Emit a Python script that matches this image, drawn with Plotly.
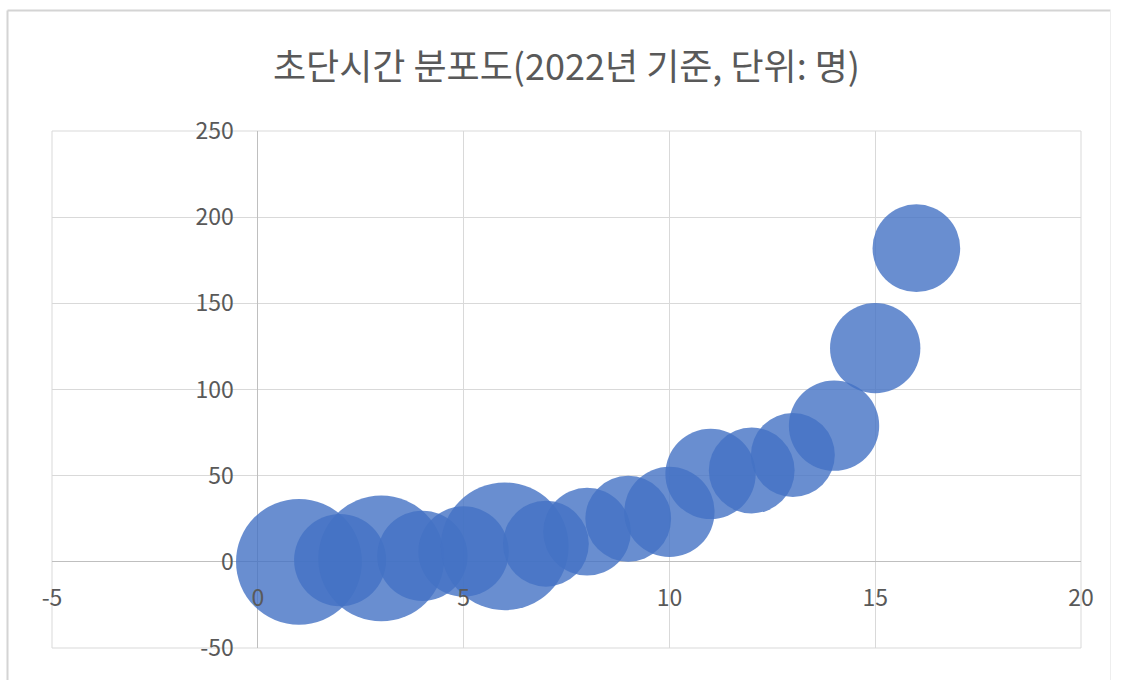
import plotly.graph_objects as go

# Data
x_vals = [1, 2, 3, 4, 5, 6, 7, 8, 9, 10, 11, 12, 13, 14, 15, 16]
y_vals = [0, 1, 2, 3.5, 6, 9, 10.5, 17.5, 25, 29, 51, 53, 62, 79, 124, 182]
bubble_sizes = [99, 53, 99, 51, 51, 102, 46, 48, 46, 51, 51, 46, 44, 51, 51, 48]

x_ticks = [-5, 0, 5, 10, 15, 20]
y_ticks = [-50, 0, 50, 100, 150, 200, 250]
title_text = "초단시간 분포도(2022년 기준, 단위: 명)"

FONT = "Noto Sans CJK KR"
TXT = "#595959"
GRID = "#D9D9D9"
AXIS = "#BFBFBF"

W, H = 1122, 680
ML, MR, MT, MB = 52, 41, 131, 32

fig = go.Figure()
fig.add_trace(go.Scatter(
    x=x_vals, y=y_vals, mode="markers",
    marker=dict(size=bubble_sizes, sizemode="area", sizeref=0.0125,
                color="rgba(68,114,196,0.80)", opacity=1, line=dict(width=0)),
    showlegend=False, hoverinfo="x+y",
))

x_min, x_max = -5, 20
y_min, y_max = -50, 250

fig.update_layout(
    width=W, height=H,
    margin=dict(l=ML, r=MR, t=MT, b=MB, pad=0),
    paper_bgcolor="white", plot_bgcolor="white",
    title=dict(text=title_text, x=0.5, xref="paper", xanchor="center",
               y=1 - 67 / H, yref="container", yanchor="middle",
               font=dict(family=FONT, size=36, color=TXT)),
    xaxis=dict(range=[x_min, x_max], tickvals=x_ticks,
               ticktext=[str(v) for v in x_ticks], showgrid=True,
               gridcolor=GRID, gridwidth=1, zeroline=True,
               zerolinecolor=AXIS, zerolinewidth=1, showline=False,
               anchor="free", position=(0 - y_min) / (y_max - y_min),
               ticks="", ticklabelstandoff=20,
               tickfont=dict(family=FONT, size=23, color=TXT)),
    yaxis=dict(range=[y_min, y_max], tickvals=y_ticks,
               ticktext=[str(v) for v in y_ticks], showgrid=True,
               gridcolor=GRID, gridwidth=1, zeroline=True,
               zerolinecolor=AXIS, zerolinewidth=1, showline=False,
               anchor="free", position=(0 - x_min) / (x_max - x_min),
               ticks="", ticklabelstandoff=24,
               tickfont=dict(family=FONT, size=23, color=TXT)),
)

# Plot-area edge gridlines
fig.add_shape(type="rect", xref="paper", yref="paper", x0=0, x1=1, y0=0, y1=1,
              line=dict(color=GRID, width=1), layer="below")

# Outer chart border
pw = W - ML - MR
ph = H - MT - MB
def px_to_paper_x(px):
    return (px - ML) / pw
def px_to_paper_y(py):
    return (H - MB - py) / ph

fig.add_shape(type="line", xref="paper", yref="paper",
              x0=px_to_paper_x(7.5), x1=px_to_paper_x(7.5),
              y0=px_to_paper_y(10.5), y1=px_to_paper_y(700),
              line=dict(color="#D4D4D4", width=2))
fig.add_shape(type="line", xref="paper", yref="paper",
              x0=px_to_paper_x(7.5), x1=px_to_paper_x(1110.5),
              y0=px_to_paper_y(10.5), y1=px_to_paper_y(10.5),
              line=dict(color="#D4D4D4", width=2))
fig.add_shape(type="line", xref="paper", yref="paper",
              x0=px_to_paper_x(1110.5), x1=px_to_paper_x(1110.5),
              y0=px_to_paper_y(10.5), y1=px_to_paper_y(700),
              line=dict(color="#EEEEEE", width=1))

fig.write_html("out.html")
